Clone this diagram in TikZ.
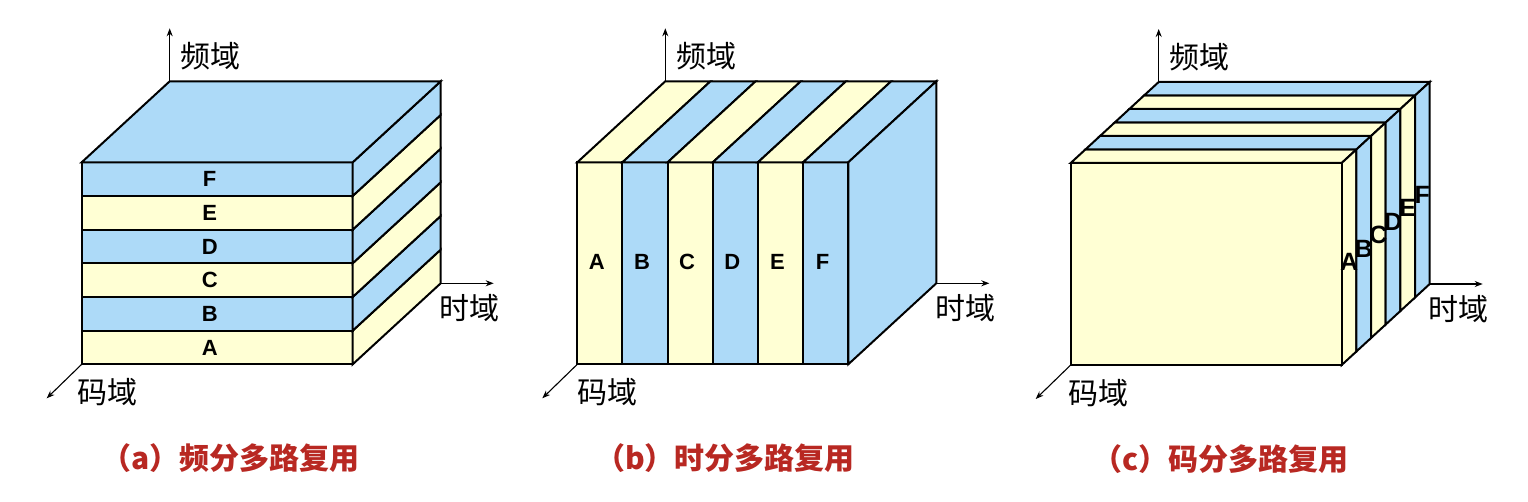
\documentclass[tikz,border=0pt]{standalone}
\usepackage{fontspec}
\usepackage{xcolor}
\usepackage{tikz}
\usetikzlibrary{arrows.meta, positioning}
\newfontfamily\cjk{Noto Sans CJK SC}
\newfontfamily\latinfont{Liberation Sans}
\definecolor{slotblue}{RGB}{173,218,248}
\definecolor{slotyellow}{RGB}{255,255,212}
\definecolor{capred}{RGB}{184,40,34}
\tikzset{
    face/.style={draw=black, line width=1pt, line join=miter},
    axis/.style={-{Stealth[length=4pt, width=3pt]}, line width=0.55pt},
    axlabel/.style={font=\cjk\fontsize{15}{15}\selectfont, inner sep=0pt},
    slot/.style={font=\latinfont\bfseries\fontsize{11}{11}\selectfont, inner sep=0pt},
    cslot/.style={font=\latinfont\bfseries\fontsize{12.5}{12.5}\selectfont, inner sep=0pt},
    caption/.style={font=\cjk\bfseries\fontsize{15}{15}\selectfont, text=capred,
                    inner sep=0pt, anchor=east}
}

\begin{document}
\begin{tikzpicture}[x=0.5pt, y=-0.5pt]
  \useasboundingbox (0,0) rectangle (1528,502);

  % --- Panel (a): frequency bands stacked upward ---
  \begin{scope}[shift={(81.7,364.3)}]
    \foreach \k/\c/\l in {0/slotyellow/A, 1/slotblue/B, 2/slotyellow/C,
                          3/slotblue/D, 4/slotyellow/E, 5/slotblue/F} {
      \draw[face, fill=\c] (0,{-\k*33.67}) rectangle (271,{-(\k+1)*33.67});
      \draw[face, fill=\c] (271,{-\k*33.67}) -- ++(88,-81) -- ++(0,-33.67)
            -- (271,{-(\k+1)*33.67}) -- cycle;
      \node[slot] (fa-\l) at (128,{-(\k+0.5)*33.67}) {\l};
    }
    \draw[face, fill=slotblue] (0,-202) -- (271,-202) -- (359,-283) -- (88,-283) -- cycle;

    \coordinate (a-org)  at (0,0);
    \coordinate (a-back) at (88,-283);
    \coordinate (a-side) at (359,-81);
    \coordinate (a-ftip) at (88,-336);
    \coordinate (a-ttip) at (412,-81);
    \coordinate (a-ctip) at (-35,34);
    \draw[axis] (a-back) -- (a-ftip);
    \draw[axis] (a-side) -- (a-ttip);
    \draw[axis] (a-org)  -- (a-ctip);
    \node[axlabel] (a-freq) at (129,-308) {频域};
    \node[axlabel] (a-time) at (388,-56) {时域};
    \node[axlabel] (a-code) at (26,28) {码域};
    \node[caption] (a-cap) at (278,94) {（a）频分多路复用};
  \end{scope}

  % --- Panel (b): time slots side by side ---
  \begin{scope}[shift={(577.3,364.3)}]
    \foreach \k/\c/\l in {0/slotyellow/A, 1/slotblue/B, 2/slotyellow/C,
                          3/slotblue/D, 4/slotyellow/E, 5/slotblue/F} {
      \draw[face, fill=\c] ({\k*45.17},0) rectangle ({(\k+1)*45.17},-202);
      \draw[face, fill=\c] ({\k*45.17},-202) -- ++(45.17,0) -- ++(88,-81)
            -- ++(-45.17,0) -- cycle;
      \node[slot] (fb-\l) at ({\k*45.17+19.5},-102.6) {\l};
    }
    \draw[face, fill=slotblue] (271,0) -- (359,-81) -- (359,-283) -- (271,-202) -- cycle;

    \coordinate (b-org)  at (0,0);
    \coordinate (b-back) at (88,-283);
    \coordinate (b-side) at (359,-81);
    \coordinate (b-ftip) at (88,-336);
    \coordinate (b-ttip) at (412,-81);
    \coordinate (b-ctip) at (-35,34);
    \draw[axis] (b-back) -- (b-ftip);
    \draw[axis] (b-side) -- (b-ttip);
    \draw[axis] (b-org)  -- (b-ctip);
    \node[axlabel] (b-freq) at (129,-308) {频域};
    \node[axlabel] (b-time) at (388,-56) {时域};
    \node[axlabel] (b-code) at (30,28) {码域};
    \node[caption] (b-cap) at (278,94) {（b）时分多路复用};
  \end{scope}

  % --- Panel (c): code slabs one behind another ---
  \begin{scope}[shift={(1070.7,365)}]
    \foreach \k/\c/\l in {0/slotyellow/A, 1/slotblue/B, 2/slotyellow/C,
                          3/slotblue/D, 4/slotyellow/E, 5/slotblue/F} {
      \draw[face, fill=\c] ({\k*14.667},{-202-\k*13.5}) -- ++(271,0)
            -- ++(14.667,-13.5) -- ++(-271,0) -- cycle;
      \draw[face, fill=\c] ({271+\k*14.667},{-\k*13.5}) -- ++(14.667,-13.5)
            -- ++(0,-202) -- ++(-14.667,13.5) -- cycle;
    }
    \draw[face, fill=slotyellow] (0,0) rectangle (271,-202);
    \foreach \k/\l in {0/A, 1/B, 2/C, 3/D, 4/E, 5/F}
      \node[cslot] (fc-\l) at ({271+(\k+0.5)*14.667},{-103-\k*13.4}) {\l};

    \coordinate (c-org)  at (0,0);
    \coordinate (c-back) at (88,-283);
    \coordinate (c-side) at (359,-81);
    \coordinate (c-ftip) at (88,-336);
    \coordinate (c-ttip) at (412,-81);
    \coordinate (c-ctip) at (-35,34);
    \draw[axis] (c-back) -- (c-ftip);
    \draw[axis] (c-side) -- (c-ttip);
    \draw[axis] (c-org)  -- (c-ctip);
    \node[axlabel] (c-freq) at (129,-308) {频域};
    \node[axlabel] (c-time) at (388,-56) {时域};
    \node[axlabel] (c-code) at (28,28) {码域};
    \node[caption] (c-cap) at (278,94) {（c）码分多路复用};
  \end{scope}

\end{tikzpicture}
\end{document}
